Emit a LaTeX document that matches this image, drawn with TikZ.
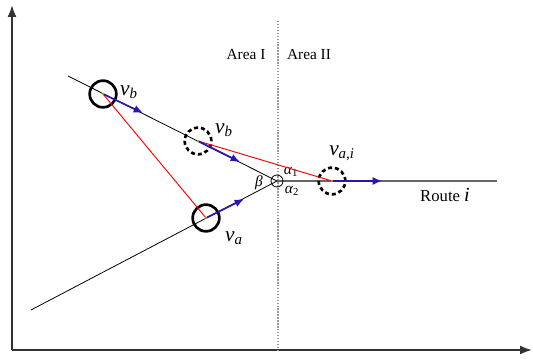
\documentclass[tikz,border=0pt]{standalone}
\usepackage{fontspec}
\setmainfont{Liberation Serif}
\usetikzlibrary{arrows.meta,positioning}

\definecolor{velblue}{RGB}{45,20,175}
\definecolor{centregreen}{RGB}{140,200,40}

\begin{document}
\begin{tikzpicture}[
    x=0.75pt,
    y=-0.75pt,
    >=Latex,
    every node/.style={font=\fontsize{11.5}{13}\selectfont},
    road/.style={black,line width=0.6pt},
    vehicle/.style={circle,draw,line width=2pt,minimum size=20pt,inner sep=0pt},
    ghost/.style={vehicle,dash pattern=on 3pt off 2.2pt},
    velocity/.style={->,velblue,line width=1.2pt,
        >={Latex[length=7pt,width=6pt]}},
    link/.style={red,line width=0.7pt},
    vlabel/.style={font=\fontsize{16}{18}\selectfont}
]

% ---------------------------------------------------------
% Frame
% ---------------------------------------------------------

\useasboundingbox (0,0) rectangle (533,359);

\draw[->,line width=1.3pt,black!80]
    (12,350) -- (12,5);

\draw[->,line width=1.3pt,black!80]
    (12,350) -- (532,350);

% Boundary between the two areas
\draw[gray!80,line width=1pt,dash pattern=on 1.1pt off 1.1pt]
    (278,21) -- (278,350);

\node (areaI)  at (246,55) {Area I};
\node (areaII) at (309,55) {Area II};

% ---------------------------------------------------------
% Roads
% ---------------------------------------------------------

\coordinate (junction) at (277,181);
\coordinate (roadb)    at (68,76);
\coordinate (roada)    at (31,310);
\coordinate (roadi)    at (497,181);

\draw[road] (roadb) -- (junction);
\draw[road] (roada) -- (junction);
\draw[black!60,line width=0.9pt] (junction) -- (roadi);

\node[circle,draw,line width=0.6pt,minimum size=9pt,inner sep=0pt]
    (merge) at (junction) {};

\node (beta)   at (259,183) {\textit{β}};
\node (alpha1) at (291,172) {\textit{α}\textsubscript{1}};
\node (alpha2) at (292,191) {\textit{α}\textsubscript{2}};

\node[font=\fontsize{12.5}{14}\selectfont]
    (route) at (445,195) {Route \textit{\fontsize{15}{17}\selectfont i}};

% ---------------------------------------------------------
% Vehicles
% ---------------------------------------------------------

\node[vehicle] (vb)   at (103,94)  {};
\node[ghost]   (vbg)  at (198,141) {};
\node[vehicle] (va)   at (206,218) {};
\node[ghost]   (vai)  at (332,181) {};

% Relative positions
\draw[link] (vb.center)  -- (va.center);
\draw[link] (vbg.center) -- (vai.center);

% Velocities
\coordinate (vbtip)  at (143,113);
\coordinate (vbgtip) at (240,162);
\coordinate (vatip)  at (244,199);
\coordinate (vaitip) at (382,181);

\draw[velocity] (vb.center)  -- (vbtip);
\draw[velocity] (vbg.center) -- (vbgtip);
\draw[velocity] (va.center)  -- (vatip);
\draw[velocity] (vai.center) -- (vaitip);

\foreach \veh in {vb,vbg,va,vai}{
    \fill[centregreen] (\veh.center) circle (0.9pt);
}

\node[vlabel] (vblabel)  at (129,92)  {\textit{v}\textsubscript{\textit{b}}};
\node[vlabel] (vbglabel) at (224,130) {\textit{v}\textsubscript{\textit{b}}};
\node[vlabel] (valabel)  at (234,238) {\textit{v}\textsubscript{\textit{a}}};
\node[vlabel] (vailabel) at (342,153) {\textit{v}\textsubscript{\textit{a,i}}};

\end{tikzpicture}
\end{document}
